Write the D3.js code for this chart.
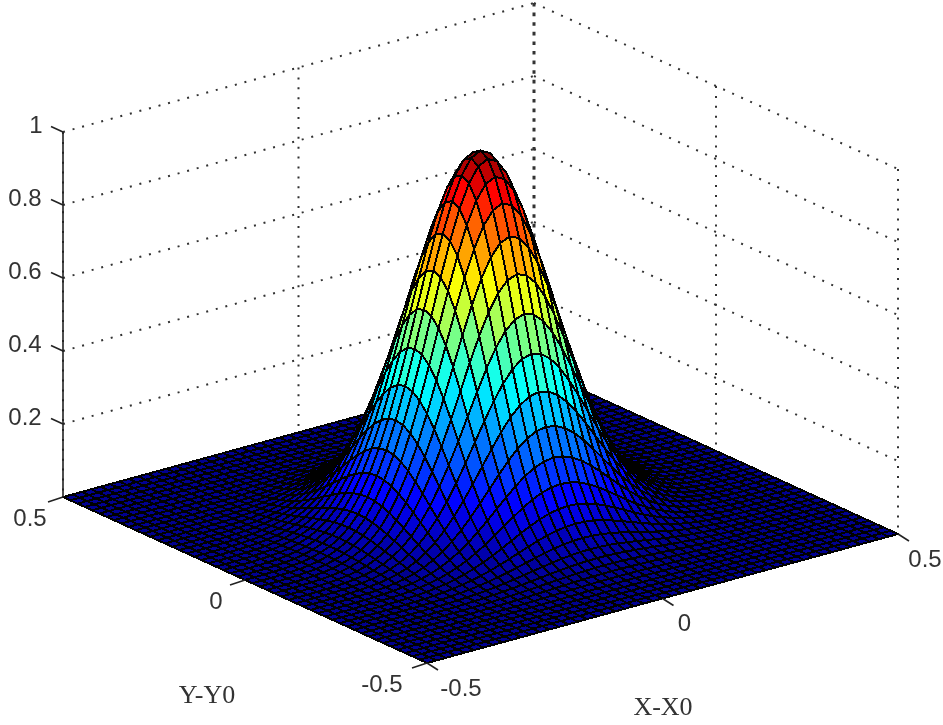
<!DOCTYPE html>
<html><head><meta charset="utf-8">
<script src="https://cdn.jsdelivr.net/npm/d3@7/dist/d3.min.js"></script>
<style>html,body{margin:0;padding:0;background:#fff;overflow:hidden}svg{display:block;filter:blur(.4px)}</style>
</head><body><svg id="c" width="943" height="725"></svg>
<script>
// Height of the central section of the surface, read at each mesh line from X = -0.5 to 0.5
const profile = [.0002,.0003,.0006,.0012,.0022,.0039,.0066,.0111,.0181,.0286,.0439,.0657,.0956,.1353,.1863,.2494,.3247,.4111,.5063,.6065,.7066,.8007,.8825,.946,.9862,
  1,
  .9862,.946,.8825,.8007,.7066,.6065,.5063,.4111,.3247,.2494,.1863,.1353,.0956,.0657,.0439,.0286,.0181,.0111,.0066,.0039,.0022,.0012,.0006,.0003,.0002];
const zTicks = [0.2, 0.4, 0.6, 0.8, 1];
const zTickLabels = ["0.2", "0.4", "0.6", "0.8", "1"];
const xTicks = [-0.5, 0, 0.5];
const yTicks = [-0.5, 0, 0.5];
const xLabel = "X-X0", yLabel = "Y-Y0";

const svg = d3.select("#c");
const n = profile.length;
const gridStops = d3.range(n).map(i => i / (n - 1) - 0.5);
const X = d3.scaleLinear().domain([-0.5, 0.5]).range([0, 1]);
const Y = d3.scaleLinear().domain([-0.5, 0.5]).range([0, 1]);
const Z = d3.scaleLinear().domain([0, 1]).range([0, 365]);
const P = (x, y, z) => [427 + 471 * X(x) - 364 * Y(y), 663 - 129 * X(x) - 166 * Y(y) - Z(z)];

// MATLAB jet, 64 levels
const jetR = d3.scaleLinear().domain([0, .375, .625, .875, 1]).range([0, 0, 1, 1, .5]).clamp(true);
const jetG = d3.scaleLinear().domain([0, .125, .375, .625, .875]).range([0, 0, 1, 1, 0]).clamp(true);
const jetB = d3.scaleLinear().domain([0, .125, .375, .625]).range([.5625, 1, 1, 0]).clamp(true);
const jet = v => {
  const q = Math.min(63, Math.floor(v * 64)) / 63;
  return d3.rgb(jetR(q) * 255, jetG(q) * 255, jetB(q) * 255).formatRgb();
};

const line = d3.line();
const walls = svg.append("g").attr("fill", "none").attr("stroke", "#333");
const dot = (a, b, cls) => walls.append("path").attr("d", line([a, b]))
  .attr("stroke-width", cls ? 3 : 2).attr("stroke-dasharray", cls ? "3.6 6" : "2 7.9");
zTicks.forEach(z => {
  dot(P(-.5, .5, z), P(.5, .5, z));
  dot(P(.5, .5, z), P(.5, -.5, z));
});
xTicks.forEach(x => dot(P(x, .5, 1), P(x, .5, 0), x === .5));
yTicks.forEach(y => { if (y < .5) dot(P(.5, y, 1), P(.5, y, 0)); });

// Surface, painted back to front
const cells = [];
for (let i = 0; i < n - 1; i++) for (let j = 0; j < n - 1; j++) cells.push([i, j]);
cells.sort((a, b) => (129 * b[0] + 166 * b[1]) - (129 * a[0] + 166 * a[1]));
const vert = (i, j) => P(gridStops[i], gridStops[j], profile[i] * profile[j]);
svg.append("g").attr("stroke", "#000").attr("stroke-width", 2).attr("stroke-linejoin", "round")
  .attr("shape-rendering", "crispEdges")
  .selectAll("path").data(cells).join("path")
  .attr("d", ([i, j]) => line([vert(i, j), vert(i + 1, j), vert(i + 1, j + 1), vert(i, j + 1)]) + "Z")
  .attr("fill", ([i, j]) => jet(profile[i] * profile[j]));

// Axes
const ax = svg.append("g").attr("fill", "none").attr("stroke", "#222").attr("stroke-width", 1.6);
ax.append("path").attr("d", line([P(-.5, .5, 0), P(-.5, .5, 1)]));
zTicks.forEach(z => { const p = P(-.5, .5, z); ax.append("path").attr("d", line([p, [p[0] - 12, p[1] - 5.5]])); });
yTicks.forEach(y => { const p = P(-.5, y, 0); ax.append("path").attr("d", line([p, [p[0] - 15, p[1] + 5]])); });
xTicks.forEach(x => { const p = P(x, -.5, 0); ax.append("path").attr("d", line([p, [p[0] + 11, p[1] + 7]])); });

const txt = (s, x, y, fam, size) => svg.append("text").text(s).attr("x", x).attr("y", y)
  .attr("text-anchor", "middle").attr("dy", ".36em").attr("font-family", fam).attr("font-size", size).attr("fill", "#333");
const sans = "Liberation Sans", serif = "Liberation Serif";
zTicks.forEach((z, i) => {
  const p = P(-.5, .5, z);
  txt(zTickLabels[i], z === 1 ? 36 : 25, p[1] - 8, sans, 24);
});
yTicks.forEach(y => { const p = P(-.5, y, 0); txt(y === 0 ? "0" : String(y), p[0] - (y === -.5 ? 45 : y === 0 ? 29 : 33), p[1] + 20, sans, 24); });
xTicks.forEach(x => { const p = P(x, -.5, 0); txt(x === 0 ? "0" : String(x), p[0] + (x === .5 ? 27 : x === 0 ? 22 : 34), p[1] + 24, sans, 24); });
txt(xLabel, 663, 706, serif, 26);
txt(yLabel, 207, 694, serif, 26);
</script></body></html>
